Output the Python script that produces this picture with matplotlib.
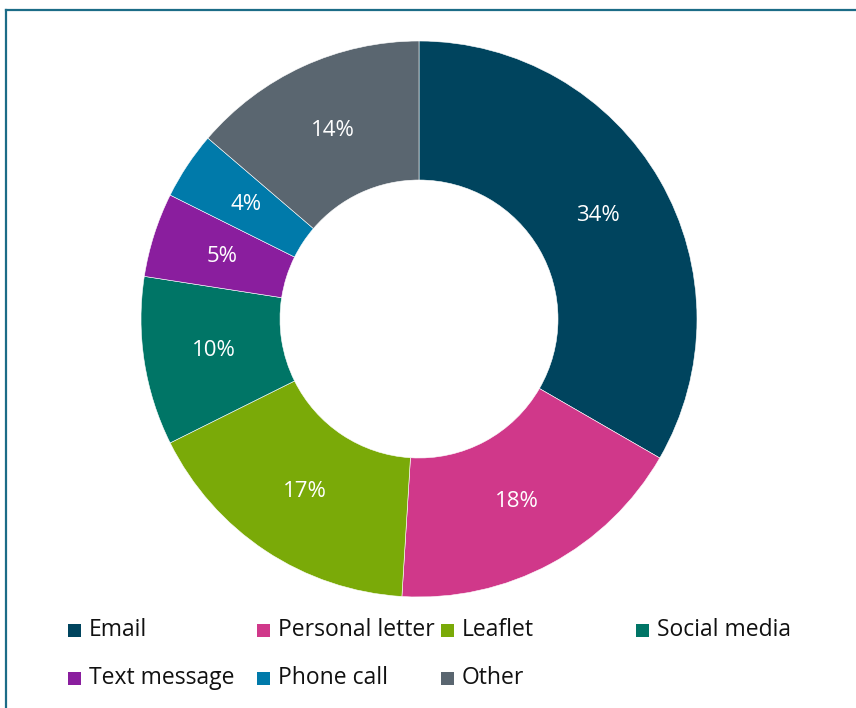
import matplotlib
matplotlib.use("Agg")
import matplotlib.pyplot as plt
from matplotlib.lines import Line2D
from matplotlib.patches import Rectangle

categories = ["Email", "Personal letter", "Leaflet", "Social media",
              "Text message", "Phone call", "Other"]
values = [34, 18, 17, 10, 5, 4, 14]
colors = ["#00445E", "#D0388A", "#7AAA08", "#007566",
          "#8A1E9E", "#007AAA", "#5A6670"]

plt.rcParams['font.family'] = ['Open Sans', 'DejaVu Sans']

W, H = 856, 708
fig = plt.figure(figsize=(W / 100, H / 100), dpi=100)

cx, cy, R = 419, 319, 278
ax = fig.add_axes([(cx - R) / W, (H - cy - R) / H, 2 * R / W, 2 * R / H])
wedges, texts = ax.pie(values, colors=colors, startangle=90, counterclock=False,
                       radius=1.0, wedgeprops=dict(width=0.5, edgecolor="white", linewidth=0.4),
                       labels=[f"{v}%" for v in values], labeldistance=0.745,
                       textprops=dict(color="white", fontsize=16, ha="center", va="center"))
ax.set_xlim(-1, 1)
ax.set_ylim(-1, 1)
ax.set_aspect("equal")
ax.axis("off")

# legend drawn manually in figure pixel coordinates
leg_x = [68, 257, 441, 636]
leg_y = [630, 678]
for i, (cat, col) in enumerate(zip(categories, colors)):
    r, c = divmod(i, 4)
    x = leg_x[c]
    y = leg_y[r]
    fig.patches.append(Rectangle((x / W, (H - y - 6.5) / H), 13 / W, 13 / H,
                                 transform=fig.transFigure, facecolor=col,
                                 edgecolor="none"))
    fig.text((x + 21) / W, (H - y) / H, cat, fontsize=16.5, color="#111111",
             ha="left", va="center")

# frame lines (top and left)
bc = "#1C6C87"
fig.add_artist(Line2D([6 / W, 1.0], [(H - 10) / H] * 2, color=bc, linewidth=1.6,
                      transform=fig.transFigure))
fig.add_artist(Line2D([6 / W, 6 / W], [0, (H - 10) / H], color=bc, linewidth=1.6,
                      transform=fig.transFigure))

fig.savefig("out.png", dpi=100)
